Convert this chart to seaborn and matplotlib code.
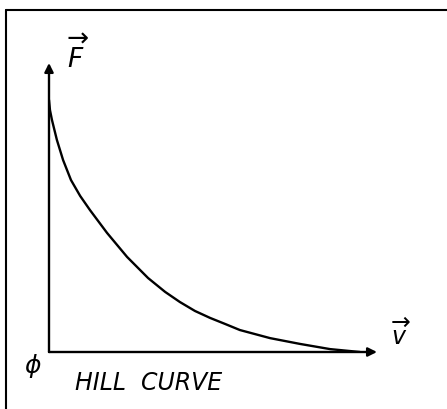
import matplotlib
matplotlib.use("Agg")
import matplotlib.pyplot as plt
from matplotlib.lines import Line2D
import seaborn as sns
import pandas as pd

# Hill force-velocity relation (normalised units: v along x, F along y)
velocity = [0.0, 0.003, 0.009, 0.024, 0.043, 0.067, 0.095, 0.125, 0.177,
            0.238, 0.302, 0.354, 0.399, 0.445, 0.491, 0.537, 0.582, 0.674,
            0.765, 0.857, 0.948]
force = [0.872, 0.837, 0.803, 0.734, 0.664, 0.595, 0.540, 0.491, 0.412,
         0.329, 0.256, 0.208, 0.173, 0.142, 0.118, 0.097, 0.076, 0.048,
         0.028, 0.010, 0.0]

title_text = "HILL  CURVE"
origin_text = "ϕ"
y_label = r"$\overrightarrow{F}$"
x_label = r"$\overrightarrow{v}$"

sns.set_style("white")

W, H = 447, 409
fig = plt.figure(figsize=(W / 100, H / 100), dpi=100)
fig.patch.set_facecolor("white")


def fx(px):
    return px / W


def fy(py):
    return 1 - py / H


# plotting area: origin at (49, 352) px, arrows end at x=377 and y=63
ax = fig.add_axes([fx(49), fy(352), (377 - 49) / W, (352 - 63) / H])
ax.set_xlim(0, 1)
ax.set_ylim(0, 1)
ax.set_facecolor("none")
for s in ax.spines.values():
    s.set_visible(False)
ax.set_xticks([])
ax.set_yticks([])

df = pd.DataFrame({"v": velocity, "F": force})
sns.lineplot(data=df, x="v", y="F", color="black", lw=1.7, sort=False,
             estimator=None, ax=ax)
ax.set_xlabel("")
ax.set_ylabel("")

arrow_kw = dict(arrowstyle="-|>", lw=1.7, color="black",
                mutation_scale=13, shrinkA=0, shrinkB=0)
ax.annotate("", xy=(0, 1), xytext=(0, 0), xycoords="axes fraction",
            arrowprops=arrow_kw)
ax.annotate("", xy=(1, 0), xytext=(0, 0), xycoords="axes fraction",
            arrowprops=arrow_kw)

# axis symbols and caption
fig.text(fx(78), fy(55), y_label, fontsize=19, ha="center", va="center",
         color="black")
fig.text(fx(401), fy(334), x_label, fontsize=17, ha="center", va="center",
         color="black")
fig.text(fx(33), fy(366), origin_text, fontsize=18, ha="center", va="center",
         color="black", fontstyle="italic")
fig.text(fx(149), fy(383), title_text, fontsize=17, ha="center", va="center",
         color="black", fontstyle="italic")

# frame edges
fig.add_artist(Line2D([fx(6), fx(447)], [fy(10), fy(10)], color="black", lw=1.5))
fig.add_artist(Line2D([fx(6), fx(6)], [fy(10), fy(409)], color="black", lw=1.5))

fig.savefig("out.png", dpi=100, facecolor="white")
